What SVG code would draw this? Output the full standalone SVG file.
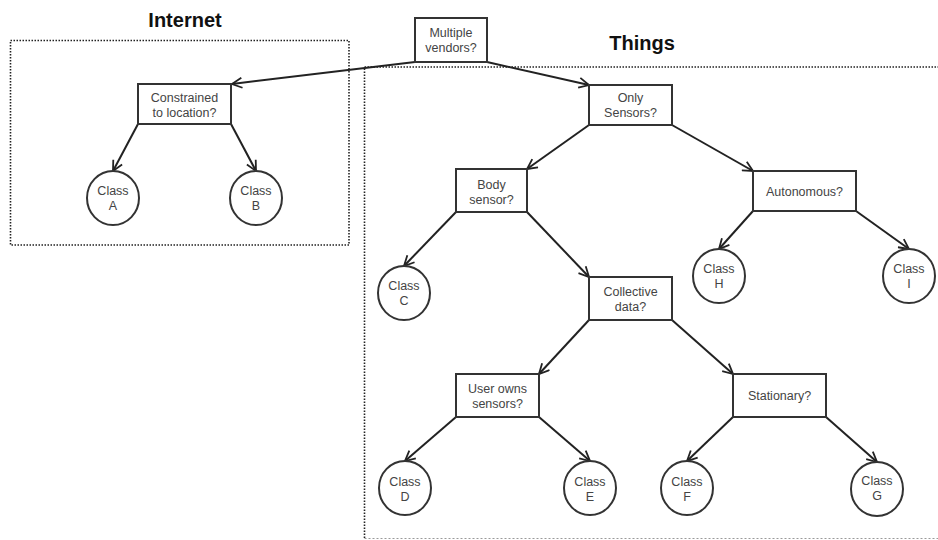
<svg xmlns="http://www.w3.org/2000/svg" width="938" height="540" viewBox="0 0 938 540">
<style>
.bg{fill:#ffffff}
.group{fill:none;stroke:#222;stroke-width:1.6;stroke-dasharray:1.5 1.5}
.groupl{fill:none;stroke:#9a9a9a;stroke-width:1;stroke-dasharray:2 2}
.title{font-family:"Liberation Sans",Arial,sans-serif;font-size:20px;font-weight:bold;fill:#111;text-anchor:middle}
.box{fill:#fff;stroke:#333;stroke-width:2}
.circ{fill:#fff;stroke:#333;stroke-width:2}
.lbl{font-family:"Liberation Sans",Arial,sans-serif;font-size:12.5px;fill:#444;text-anchor:middle}
.edge{fill:none;stroke:#222;stroke-width:2;marker-end:url(#arr)}
</style>
<defs>
<marker id="arr" viewBox="0 0 12 12" refX="11" refY="6" markerWidth="12" markerHeight="12" markerUnits="userSpaceOnUse" orient="auto">
<path d="M1,1 L11,6 L1,11" fill="none" stroke="#222" stroke-width="1.8"/>
</marker>
</defs>
<rect class="bg" x="0" y="0" width="938" height="540"/>
<g id="internet-group">
<rect class="group" x="10.5" y="40.5" width="338.5" height="204.5"/>
<text class="title" x="185" y="27">Internet</text>
</g>
<g id="things-group">
<path class="group" d="M364.5,538 L364.5,67 L938,67"/>
<path class="groupl" d="M364.5,538.5 L938,538.5"/>
<text class="title" x="642" y="50">Things</text>
</g>
<g id="connectors">
<line class="edge" x1="415" y1="62" x2="232" y2="84"/>
<line class="edge" x1="487" y1="62" x2="589" y2="85"/>
<line class="edge" x1="138" y1="124" x2="113" y2="171"/>
<line class="edge" x1="231" y1="124" x2="256" y2="171"/>
<line class="edge" x1="589" y1="125" x2="527" y2="169"/>
<line class="edge" x1="672" y1="125" x2="753" y2="171"/>
<line class="edge" x1="456" y1="212" x2="404" y2="266"/>
<line class="edge" x1="527" y1="212" x2="589" y2="277"/>
<line class="edge" x1="753" y1="211" x2="719" y2="249"/>
<line class="edge" x1="856" y1="211" x2="909" y2="249"/>
<line class="edge" x1="589" y1="320" x2="539" y2="374"/>
<line class="edge" x1="672" y1="320" x2="733" y2="374"/>
<line class="edge" x1="456" y1="417" x2="405" y2="461"/>
<line class="edge" x1="539" y1="417" x2="590" y2="461"/>
<line class="edge" x1="733" y1="417" x2="687" y2="461"/>
<line class="edge" x1="826" y1="417" x2="877" y2="462"/>
</g>
<g id="multiple-vendors">
<rect class="box" x="415" y="18" width="72" height="44"/>
<text class="lbl" x="451" y="37">Multiple</text>
<text class="lbl" x="451" y="51.5">vendors?</text>
</g>
<g id="constrained">
<rect class="box" x="138" y="84" width="93" height="40"/>
<text class="lbl" x="184.5" y="102">Constrained</text>
<text class="lbl" x="184.5" y="116.5">to location?</text>
</g>
<g id="only-sensors">
<rect class="box" x="589" y="85" width="83" height="40"/>
<text class="lbl" x="630.5" y="102">Only</text>
<text class="lbl" x="630.5" y="116.5">Sensors?</text>
</g>
<g id="body-sensor">
<rect class="box" x="456" y="169" width="71" height="43"/>
<text class="lbl" x="491.5" y="188.5">Body</text>
<text class="lbl" x="491.5" y="203.5">sensor?</text>
</g>
<g id="autonomous">
<rect class="box" x="753" y="171" width="103" height="40"/>
<text class="lbl" x="804.5" y="196">Autonomous?</text>
</g>
<g id="collective-data">
<rect class="box" x="589" y="277" width="83" height="43"/>
<text class="lbl" x="630.5" y="296">Collective</text>
<text class="lbl" x="630.5" y="310.5">data?</text>
</g>
<g id="user-owns">
<rect class="box" x="456" y="374" width="83" height="43"/>
<text class="lbl" x="497.5" y="393">User owns</text>
<text class="lbl" x="497.5" y="407.5">sensors?</text>
</g>
<g id="stationary">
<rect class="box" x="733" y="374" width="93" height="43"/>
<text class="lbl" x="779.5" y="400">Stationary?</text>
</g>
<g id="class-a">
<ellipse class="circ" cx="113" cy="198" rx="26" ry="27"/>
<text class="lbl" x="113" y="195">Class</text>
<text class="lbl" x="113" y="210">A</text>
</g>
<g id="class-b">
<ellipse class="circ" cx="256" cy="198" rx="26" ry="27"/>
<text class="lbl" x="256" y="195">Class</text>
<text class="lbl" x="256" y="210">B</text>
</g>
<g id="class-c">
<ellipse class="circ" cx="404" cy="293" rx="26" ry="27"/>
<text class="lbl" x="404" y="289.5">Class</text>
<text class="lbl" x="404" y="304.5">C</text>
</g>
<g id="class-h">
<ellipse class="circ" cx="719" cy="276" rx="26" ry="27"/>
<text class="lbl" x="719" y="272.5">Class</text>
<text class="lbl" x="719" y="287.5">H</text>
</g>
<g id="class-i">
<ellipse class="circ" cx="909" cy="276" rx="26" ry="27"/>
<text class="lbl" x="909" y="272.5">Class</text>
<text class="lbl" x="909" y="287.5">I</text>
</g>
<g id="class-d">
<ellipse class="circ" cx="405" cy="488" rx="26" ry="27"/>
<text class="lbl" x="405" y="486">Class</text>
<text class="lbl" x="405" y="501">D</text>
</g>
<g id="class-e">
<ellipse class="circ" cx="590" cy="488" rx="26" ry="27"/>
<text class="lbl" x="590" y="486">Class</text>
<text class="lbl" x="590" y="501">E</text>
</g>
<g id="class-f">
<ellipse class="circ" cx="687" cy="488" rx="26" ry="27"/>
<text class="lbl" x="687" y="486">Class</text>
<text class="lbl" x="687" y="501">F</text>
</g>
<g id="class-g">
<ellipse class="circ" cx="877" cy="489" rx="26" ry="27"/>
<text class="lbl" x="877" y="485">Class</text>
<text class="lbl" x="877" y="500">G</text>
</g>
</svg>
